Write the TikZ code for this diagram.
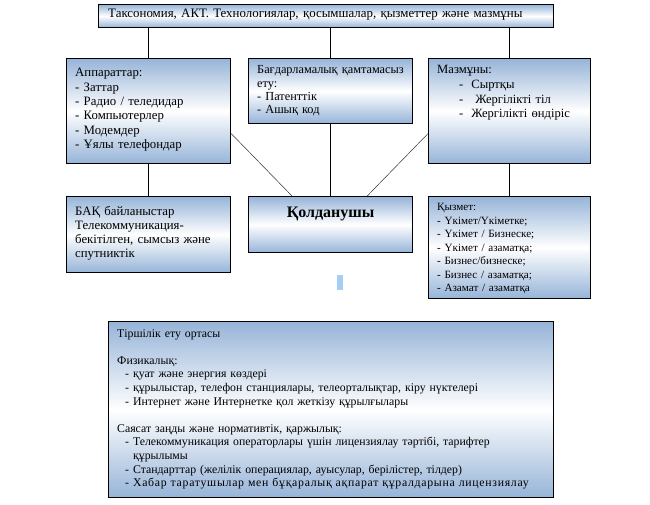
\documentclass[tikz,border=0pt]{standalone}
\usepackage{fontspec}
\setmainfont{Liberation Serif}
\usetikzlibrary{positioning,calc}
\definecolor{bBlue}{RGB}{150,180,216}
\definecolor{mBlue}{RGB}{165,205,245}
\tikzset{
    box/.style={draw, line width=1.2pt, anchor=north west, inner sep=0pt,
        top color=bBlue, bottom color=bBlue, middle color=white},
    txt/.style={anchor=base west, inner sep=0pt, align=left, text width=#1},
    txt/.default=150pt,
    link/.style={line width=1pt},
    diag/.style={line width=0.5pt, black!80}
}

\begin{document}
\begin{tikzpicture}[x=1pt,y=-1pt]
\useasboundingbox (0,0) rectangle (650,505);
% boxes
\node[box, minimum width=455, minimum height=23] (tax)  at ( 98,  4) {};
\node[box, minimum width=164, minimum height=105] (app) at ( 66, 58) {};
\node[box, minimum width=164, minimum height=65] (soft) at (248, 58) {};
\node[box, minimum width=162, minimum height=105] (cont) at (428, 58) {};
\node[box, minimum width=164, minimum height=76] (bak)  at ( 66,196) {};
\node[box, minimum width=164, minimum height=56] (use)  at (248,196) {};
\node[box, minimum width=162, minimum height=102] (serv) at (428,196) {};
\node[box, minimum width=445, minimum height=176] (env) at (108,321) {};
\node[anchor=north west, fill=mBlue, minimum width=6, minimum height=15, inner sep=0pt] (mark) at (337,275) {};
% texts
\node[txt=440pt, font=\fontsize{12.9}{14}\selectfont] (taxT) at ([shift={(10pt,-14pt)}]tax.north west)
    {Таксономия, АКТ. Технологиялар, қосымшалар, қызметтер және мазмұны};
\node[txt, font=\fontsize{12.8}{14.3}\selectfont] (appT) at ([shift={(9pt,-19pt)}]app.north west)
    {Аппараттар:\\- Заттар\\- Радио / теледидар\\- Компьютерлер\\- Модемдер\\- Ұялы телефондар};
\node[txt, font=\fontsize{12.3}{13.3}\selectfont] (softT) at ([shift={(9pt,-16pt)}]soft.north west)
    {Бағдарламалық қамтамасыз ету:\\- Патенттік\\- Ашық код};
\node[txt, font=\fontsize{12.6}{14.6}\selectfont] (contT) at ([shift={(9pt,-16pt)}]cont.north west)
    {Мазмұны:\\\hspace*{22pt}-\hspace{8pt}Сыртқы\\\hspace*{22pt}-\hspace{12pt}Жергілікті тіл\\\hspace*{22pt}-\hspace{8pt}Жергілікті өндіріс};
\node[txt, font=\fontsize{12.8}{14}\selectfont] (bakT) at ([shift={(9pt,-19pt)}]bak.north west)
    {БАҚ байланыстар\\Телекоммуникация-\\бекітілген, сымсыз және\\спутниктік};
\node[anchor=base, inner sep=0pt, font=\bfseries\fontsize{16}{18}\selectfont] (useT) at ([yshift=-21pt]use.north)
    {Қолданушы};
\node[txt, font=\fontsize{11.1}{13.5}\selectfont] (servT) at ([shift={(9pt,-15pt)}]serv.north west)
    {Қызмет:\\- Үкімет/Үкіметке;\\- Үкімет / Бизнеске;\\- Үкімет / азаматқа;\\- Бизнес/бизнеске;\\- Бизнес / азаматқа;\\- Азамат / азаматқа};
\node[txt=435pt, font=\fontsize{11.8}{13.6}\selectfont] (envT) at ([shift={(9pt,-16pt)}]env.north west)
    {Тіршілік ету ортасы\\[13.6pt]Физикалық:\\
    \hspace*{8pt}- қуат және энергия көздері\\
    \hspace*{8pt}- құрылыстар, телефон станциялары, телеорталықтар, кіру нүктелері\\
    \hspace*{8pt}- Интернет және Интернетке қол жеткізу құрылғылары\\[13.6pt]
    Саясат заңды және нормативтік, қаржылық:\\
    \hspace*{8pt}- Телекоммуникация операторлары үшін лицензиялау тәртібі, тарифтер\\
    \hspace*{16pt}құрылымы\\
    \hspace*{8pt}- Стандарттар (желілік операциялар, ауысулар, берілістер, тілдер)\\
    \hspace*{8pt}{\addfontfeature{LetterSpace=6}- Хабар таратушылар мен бұқаралық ақпарат құралдарына лицензиялау}};
% connectors
\draw[link] (app.north) -- (app.north |- tax.south);
\draw[link] (soft.north) -- (soft.north |- tax.south);
\draw[link] (cont.north) -- (cont.north |- tax.south);
\draw[link] (soft.south) -- (use.north);
\draw[link] (app.south) -- (bak.north);
\draw[link] (cont.south) -- (serv.north);
\draw[diag] ([yshift=-22.5pt]app.east) -- ([xshift=44pt]use.north west);
\draw[diag] ([yshift=-22.5pt]cont.west) -- ([xshift=-46pt]use.north east);
\end{tikzpicture}
\end{document}
